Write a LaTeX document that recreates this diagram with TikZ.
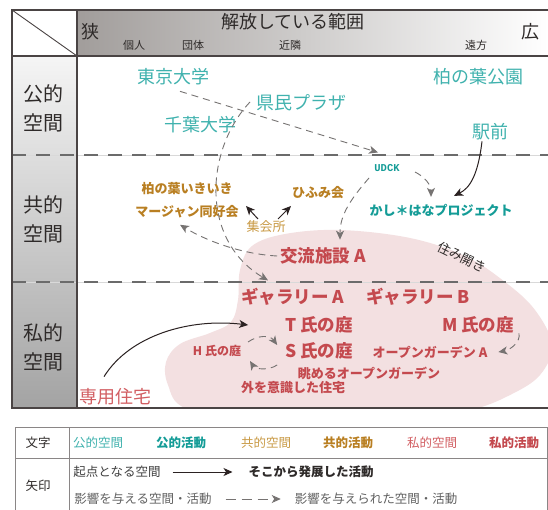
\documentclass[tikz,border=0pt]{standalone}
\usepackage{fontspec}
\setmainfont{Noto Sans CJK JP}
\newfontfamily\monofnt{Liberation Mono}
\usetikzlibrary{arrows.meta}
\definecolor{pubL}{HTML}{40B2AE}
\definecolor{pubD}{HTML}{149C97}
\definecolor{comL}{HTML}{C99A45}
\definecolor{comD}{HTML}{B97F22}
\definecolor{priL}{HTML}{D25E62}
\definecolor{priD}{HTML}{C4494E}
\definecolor{blob}{HTML}{F3E0E1}
\definecolor{arrg}{HTML}{767372}
\definecolor{arrD}{HTML}{2B2222}
\definecolor{frame}{HTML}{4A4444}
\definecolor{hg}{HTML}{A19D9B}
\definecolor{hg2}{HTML}{B4B0AE}
\definecolor{lgline}{HTML}{8A8686}
\definecolor{txtD}{HTML}{2E2A29}
\begin{document}
\begin{tikzpicture}[x=1pt,y=-1pt,
  every node/.style={inner sep=0pt,outer sep=0pt},
  pubsp/.style={text=pubL,font=\fontsize{18}{20}\selectfont},
  pubact/.style={text=pubD,font=\bfseries\fontsize{13}{15}\selectfont},
  comsp/.style={text=comL,font=\fontsize{13}{15}\selectfont},
  comact/.style={text=comD,font=\bfseries\fontsize{13}{15}\selectfont},
  prisp/.style={text=priL,font=\fontsize{18}{20}\selectfont},
  priactL/.style={text=priD,font=\bfseries\fontsize{17.5}{20}\selectfont},
  priactS/.style={text=priD,font=\bfseries\fontsize{13}{15}\selectfont},
  rowlabel/.style={text=txtD,align=center,font=\fontsize{20}{29}\selectfont},
  hdrbig/.style={text=txtD,font=\fontsize{18}{20}\selectfont},
  hdrsmall/.style={text=txtD,font=\fontsize{11}{13}\selectfont},
  lgtext/.style={font=\fontsize{12.5}{14}\selectfont},
  infl/.style={draw=arrg,line width=0.9pt,dash pattern=on 7pt off 5pt,
    -{Stealth[length=9pt,width=8pt,inset=2.5pt]}},
  orig/.style={draw=arrD,line width=1pt,-{Stealth[length=9pt,width=8pt,inset=2.5pt]}},
  rowsep/.style={draw=HTMLgray,line width=1.4pt,dash pattern=on 14pt off 10pt},
]
\colorlet{HTMLgray}{black!58}
\useasboundingbox (0,0) rectangle (548,510);
\fill[white] (0,0) rectangle (548,510);
% header and left column shading
\shade[left color=hg,middle color=hg2,right color=white] (77,10) rectangle (548,56);
\shade[top color=black!4,middle color=black!18,bottom color=black!36] (12,56) rectangle (77,408);
% pink blob
\begin{scope}
\clip (77,56) rectangle (548,408);
\fill[blob] plot[smooth cycle,tension=0.6] coordinates {
 (238,300) (240,270) (252,246) (285,234) (340,230) (410,238) (465,256)
 (505,282) (535,310) (552,345) (540,375) (510,395) (470,410) (400,420)
 (250,420) (185,408) (168,385) (166,362) (180,344) (210,333) (231,322)};
\end{scope}
% row separators
\draw[black!15,line width=0.6pt] (12,155) -- (548,155);
\draw[black!15,line width=0.6pt] (12,282) -- (548,282);
\draw[rowsep] (12,155) -- (548,155);
\draw[rowsep] (12,282) -- (548,282);
% frame
\draw[frame,line width=1.2pt] (548,10) -- (12,10) -- (12,408) -- (548,408);
\draw[frame,line width=1.1pt] (77,10) -- (77,408);
\draw[frame,line width=1.1pt] (12,56) -- (548,56);
\draw[frame,line width=0.9pt] (12,10) -- (77,56);
% header text
\node[hdrbig] (narrow) at (90,32) {狭};
\node[hdrbig] (range) at (293,22) {解放している範囲};
\node[hdrbig] (wide) at (530,32) {広};
\node[hdrsmall] (kojin) at (134,45) {個人};
\node[hdrsmall] (dantai) at (193,45) {団体};
\node[hdrsmall] (kinrin) at (290,45) {近隣};
\node[hdrsmall] (enpo) at (476,45) {遠方};
% row labels
\node[rowlabel] (rpub) at (43,108) {公的\\空間};
\node[rowlabel] (rcom) at (43,219) {共的\\空間};
\node[rowlabel] (rpri) at (43,347) {私的\\空間};
% public
\node[pubsp] (tokyo) at (173,77) {東京大学};
\node[pubsp] (kenmin) at (301,103) {県民プラザ};
\node[pubsp] (chiba) at (200,125) {千葉大学};
\node[pubsp] (kpark) at (478,77) {柏の葉公園};
\node[pubsp] (ekimae) at (490,132) {駅前};
\node[text=pubD,font=\monofnt\bfseries\fontsize{10.5}{12}\selectfont] (udck) at (387,168) {UDCK};
\node[pubact] (kashihana) at (441,210) {かし＊はなプロジェクト};
% community
\node[comact] (ikiiki) at (187,189) {柏の葉いきいき};
\node[comact] (mahjong) at (187,212) {マージャン同好会};
\node[comact] (hifumi) at (318,193) {ひふみ会};
\node[comsp] (shukai) at (266,227) {集会所};
% private
\node[priactL] (kouryu) at (323,256) {交流施設 A};
\node[text=txtD,font=\fontsize{13}{15}\selectfont,rotate=-26] (sumi) at (462,257) {住み開き};
\node[priactL] (gallA) at (293,297) {ギャラリー A};
\node[priactL] (gallB) at (418,297) {ギャラリー B};
\node[priactL] (tniwa) at (319,325) {T 氏の庭};
\node[priactL] (mniwa) at (478,325) {M 氏の庭};
\node[priactL] (sniwa) at (319,351) {S 氏の庭};
\node[priactS,font=\bfseries\fontsize{12}{14}\selectfont] (hniwa) at (217,351) {H 氏の庭};
\node[priactS] (ogA) at (430,352) {オープンガーデン A};
\node[priactS] (nagameru) at (369,373) {眺めるオープンガーデン};
\node[priactS] (sotowo) at (293,388) {外を意識した住宅};
\node[prisp] (senyo) at (115,397) {専用住宅};
% connectors
\draw[infl] ([xshift=7pt,yshift=-6pt]tokyo.south) -- ([xshift=-9pt,yshift=12pt]udck.north);
\draw[infl] ([xshift=-6pt,yshift=1pt]kenmin.west) .. controls (205,150) and (200,240) .. ([xshift=-25pt,yshift=8pt]gallA.north);
\draw[infl] ([xshift=-3pt]kouryu.west) .. controls (240,254) and (205,240) .. ([xshift=-7pt,yshift=-6.5pt]mahjong.south);
\draw[orig] ([xshift=-8pt,yshift=2pt]shukai.north) -- ([xshift=-20pt,yshift=15pt]shukai.north);
\draw[orig] ([xshift=12pt,yshift=2pt]shukai.north) -- ([xshift=25pt,yshift=15pt]shukai.north);
\draw[infl] ([xshift=-18pt,yshift=-10pt]udck.center) .. controls (350,200) and (340,215) .. ([xshift=17pt,yshift=8pt]kouryu.north);
\draw[infl] ([xshift=28pt,yshift=-4pt]udck.center) .. controls (425,177) and (431,185) .. ([xshift=-10pt,yshift=7pt]kashihana.north);
\draw[orig] ([xshift=-8pt,yshift=-1pt]ekimae.south) .. controls (478,175) and (470,188) .. ([xshift=13pt,yshift=8pt]kashihana.north);
\draw[orig] ([xshift=-11pt,yshift=12pt]senyo.north) .. controls (130,335) and (190,318) .. ([xshift=-37pt]tniwa.west);
\draw[infl] ([xshift=7pt,yshift=9pt]hniwa.east) .. controls (258,335) and (270,335) .. ([xshift=-8pt,yshift=6pt]sniwa.west);
\draw[infl] ([xshift=-8pt,yshift=-14pt]sniwa.west) .. controls (268,371) and (255,369) .. ([xshift=9pt,yshift=-10pt]hniwa.east);
\draw[infl] ([xshift=5pt]mniwa.south east) .. controls (521,342) and (510,350) .. ([xshift=11pt]ogA.east);
% legend
\draw[lgline,line width=0.8pt] (15,510) -- (15,427) -- (547,427) -- (547,510);
\draw[lgline,line width=0.8pt] (15,458) -- (547,458);
\draw[lgline,line width=0.8pt] (69,427) -- (69,510);
\node[lgtext,text=txtD] (lmoji) at (38,443) {文字};
\node[lgtext,text=txtD] (lyaji) at (38,486) {矢印};
\node[lgtext,text=pubL] (l1) at (98,443) {公的空間};
\node[lgtext,text=pubD,font=\bfseries\fontsize{12.5}{14}\selectfont] (l2) at (181,443) {公的活動};
\node[lgtext,text=comL] (l3) at (266,443) {共的空間};
\node[lgtext,text=comD,font=\bfseries\fontsize{12.5}{14}\selectfont] (l4) at (348,443) {共的活動};
\node[lgtext,text=priL] (l5) at (432,443) {私的空間};
\node[lgtext,text=priD,font=\bfseries\fontsize{12.5}{14}\selectfont] (l6) at (514,443) {私的活動};
\node[lgtext,text=black!75] (la) at (117,472) {起点となる空間};
\node[lgtext,text=txtD,font=\bfseries\fontsize{12.5}{14}\selectfont] (lb) at (311,472) {そこから発展した活動};
\draw[orig] ([xshift=12pt]la.east) -- ([xshift=-16pt]lb.west);
\node[lgtext,text=black!62] (lc) at (143,499) {影響を与える空間・活動};
\node[lgtext,text=black!62] (ld) at (376,499) {影響を与えられた空間・活動};
\draw[infl,dash pattern=on 10pt off 6pt] ([xshift=14pt]lc.east) -- ([xshift=-14pt]ld.west);
\end{tikzpicture}
\end{document}
